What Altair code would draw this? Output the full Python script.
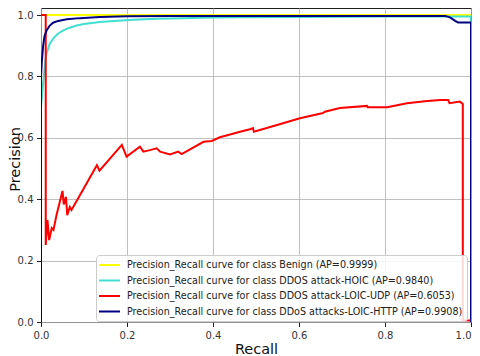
import altair as alt
import pandas as pd

labels = [
    "Precision_Recall curve for class Benign (AP=0.9999)",
    "Precision_Recall curve for class DDOS attack-HOIC (AP=0.9840)",
    "Precision_Recall curve for class DDOS attack-LOIC-UDP (AP=0.6053)",
    "Precision_Recall curve for class DDoS attacks-LOIC-HTTP (AP=0.9908)",
]
colors = ["#ffff00", "#40e0d0", "#ff0000", "#000080"]

benign_recall = [0.0, 1.0]
benign_precision = [1.0, 1.0]

hoic_recall = [0.0, 0.0, 0.005, 0.01, 0.013, 0.02, 0.029, 0.04, 0.052, 0.065, 0.083, 0.1,
               0.137, 0.17, 0.214, 0.27, 0.33, 0.4, 0.463, 0.6, 0.8, 0.95, 1.0, 1.0]
hoic_precision = [0.0, 0.7, 0.78, 0.85, 0.876, 0.905, 0.925, 0.94, 0.95, 0.958, 0.966, 0.971,
                  0.977, 0.981, 0.985, 0.988, 0.99, 0.992, 0.993, 0.994, 0.995, 0.995, 0.995, 0.0]

udp_recall = [0.0, 0.011, 0.011, 0.015, 0.019, 0.025, 0.029, 0.036, 0.05, 0.053, 0.058, 0.061,
              0.067, 0.071, 0.13, 0.136, 0.188, 0.199, 0.23, 0.238, 0.253, 0.269, 0.277, 0.3,
              0.319, 0.327, 0.378, 0.397, 0.416, 0.463, 0.486, 0.493, 0.495, 0.549, 0.602,
              0.656, 0.66, 0.695, 0.758, 0.76, 0.805, 0.851, 0.898, 0.928, 0.947, 0.95, 0.974,
              0.981, 0.981, 1.0]
udp_precision = [1.0, 1.0, 0.251, 0.332, 0.267, 0.306, 0.30, 0.348, 0.427, 0.383, 0.408, 0.348,
                 0.375, 0.365, 0.511, 0.493, 0.577, 0.539, 0.571, 0.555, 0.56, 0.566, 0.555, 0.546,
                 0.555, 0.547, 0.587, 0.59, 0.602, 0.62, 0.628, 0.632, 0.62, 0.642, 0.664,
                 0.681, 0.685, 0.697, 0.704, 0.70, 0.70, 0.713, 0.72, 0.723, 0.723, 0.713, 0.718,
                 0.71, 0.005, 0.005]

http_recall = [0.0, 0.0, 0.002, 0.005, 0.008, 0.013, 0.02, 0.028, 0.04, 0.06, 0.09, 0.137, 0.2,
               0.3, 0.94, 0.948, 0.955, 0.963, 0.97, 1.0, 1.0]
http_precision = [0.0, 0.80, 0.85, 0.90, 0.93, 0.95, 0.965, 0.975, 0.981, 0.986, 0.99, 0.994, 0.996,
                  0.997, 0.997, 0.994, 0.989, 0.981, 0.976, 0.976, 0.0]

series = [
    (benign_recall, benign_precision),
    (hoic_recall, hoic_precision),
    (udp_recall, udp_precision),
    (http_recall, http_precision),
]

rows = []
for lab, (rs, ps) in zip(labels, series):
    for i, (r, p) in enumerate(zip(rs, ps)):
        rows.append({"cls": lab, "recall": r, "precision": p, "idx": i})
df = pd.DataFrame(rows)

ticks = [0.0, 0.2, 0.4, 0.6, 0.8, 1.0]

color = alt.Color(
    "cls:N",
    scale=alt.Scale(domain=labels, range=colors),
    legend=alt.Legend(
        title=None,
        orient="none",
        legendX=55,
        legendY=247,
        direction="vertical",
        symbolType="M-1.4,0H2.8",
        symbolSize=100,
        symbolStrokeWidth=2,
        labelFontSize=9.6,
        labelFont="DejaVu Sans",
        labelColor="#222",
        labelLimit=0,
        labelOffset=15,
        rowPadding=4.5,
        padding=4,
        strokeColor="#cccccc",
        fillColor="rgba(255,255,255,0.85)",
        cornerRadius=3,
    ),
)

x = alt.X(
    "recall:Q",
    scale=alt.Scale(domain=[0, 1], nice=False, zero=False),
    axis=alt.Axis(
        values=ticks, format=".1f", title="Recall", labelFlush=False,
        labelAlign={"condition": {"test": "datum.value >= 1", "value": "right"}, "value": "center"},
        titleX=215, titleY=31, titleBaseline="alphabetic",
    ),
)
y = alt.Y(
    "precision:Q",
    scale=alt.Scale(domain=[0, 1.023], nice=False),
    axis=alt.Axis(values=ticks, format=".1f", title="Precision", labelFlush=False,
                  titleX=-22, titleY=151, titleBaseline="alphabetic"),
)

layers = []
for lab in labels:
    layers.append(
        alt.Chart(df)
        .transform_filter(alt.datum.cls == lab)
        .mark_line(strokeWidth=2, clip=True)
        .encode(x=x, y=y, color=color, order=alt.Order("idx:Q"))
    )

chart = (
    alt.layer(*layers)
    .properties(
        width=430,
        height=314,
        autosize=alt.AutoSizeParams(type="none"),
        padding={"left": 33, "top": 0, "right": 1, "bottom": 34},
    )
    .configure_view(stroke="#222", strokeWidth=1)
    .configure_axis(
        domain=False,
        grid=True,
        gridColor="#b0b0b0",
        gridWidth=0.8,
        tickColor="#222",
        tickSize=4.5,
        labelFont="DejaVu Sans",
        labelFontSize=10,
        labelColor="#333",
        labelPadding=3.5,
        titleFont="DejaVu Sans",
        titleFontSize=14.5,
        titleFontWeight="normal",
        titleColor="#111",
    )
)

chart.save("out.html", embed_options={"renderer": "svg", "actions": False})
